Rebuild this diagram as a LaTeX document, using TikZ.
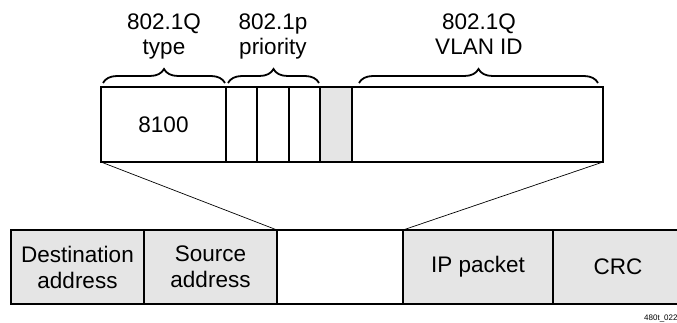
\documentclass[tikz,border=0pt]{standalone}
\usepackage{fontspec}
\setmainfont{Liberation Sans}
\usetikzlibrary{decorations.pathreplacing}
\definecolor{fieldgray}{HTML}{E5E5E5}
\tikzset{
  cell/.style={draw=black, line width=1.6pt, rectangle, anchor=north west,
    inner sep=0pt, outer sep=0pt, align=center,
    font=\fontsize{22.5}{26}\selectfont},
  shaded/.style={cell, fill=fieldgray},
  fieldbrace/.style={decorate, decoration={brace, amplitude=14pt}, line width=1.8pt},
  bracelabel/.style={align=center, inner sep=0pt, font=\fontsize{22.5}{25}\selectfont},
  link/.style={draw=black, line width=0.7pt},
}
\begin{document}
\begin{tikzpicture}[x=1pt, y=-1pt]
\useasboundingbox (0,0) rectangle (677,323);

% VLAN tag, expanded
\node[cell, minimum width=125pt, minimum height=75pt] (type) at (101,87) {8100};
\node[cell, minimum width=31pt, minimum height=75pt] (p1) at (226,87) {};
\node[cell, minimum width=32pt, minimum height=75pt] (p2) at (257,87) {};
\node[cell, minimum width=31pt, minimum height=75pt] (p3) at (289,87) {};
\node[shaded, minimum width=32pt, minimum height=75pt] (cfi) at (320,87) {};
\node[cell, minimum width=251pt, minimum height=75pt] (vid) at (352,87) {};

% braces and field names
\draw[fieldbrace] (103,83) -- (225,83);
\draw[fieldbrace] (228,83) -- (319,83);
\draw[fieldbrace] (359,83) -- (598,83);
\node[bracelabel] (ltype) at (164,37.5) {802.1Q\strut\\type\strut};
\node[bracelabel] (lprio) at (273,37.5) {802.1p\strut\\priority\strut};
\node[bracelabel] (lvid) at (479,37.5) {802.1Q\strut\\VLAN ID\strut};

% Ethernet frame
\node[shaded, minimum width=133pt, minimum height=74pt] (dst) at (11,230) {Destination\\address};
\node[shaded, minimum width=133pt, minimum height=74pt] (src) at (144,230) {Source\\address};
\node[cell, minimum width=126pt, minimum height=74pt] (tag) at (277,230) {};
\node[shaded, minimum width=150pt, minimum height=74pt] (ip) at (403,230) {IP packet};
\node[shaded, minimum width=130pt, minimum height=74pt] (crc) at (553,230) {CRC};

% expansion lines
\draw[link] (type.south west) -- (tag.north west);
\draw[link] (vid.south east) -- (tag.north east);

\node[anchor=base west, inner sep=0pt, font=\fontsize{8}{9}\selectfont] (ref) at (644,320) {480t\_022};
\end{tikzpicture}
\end{document}
